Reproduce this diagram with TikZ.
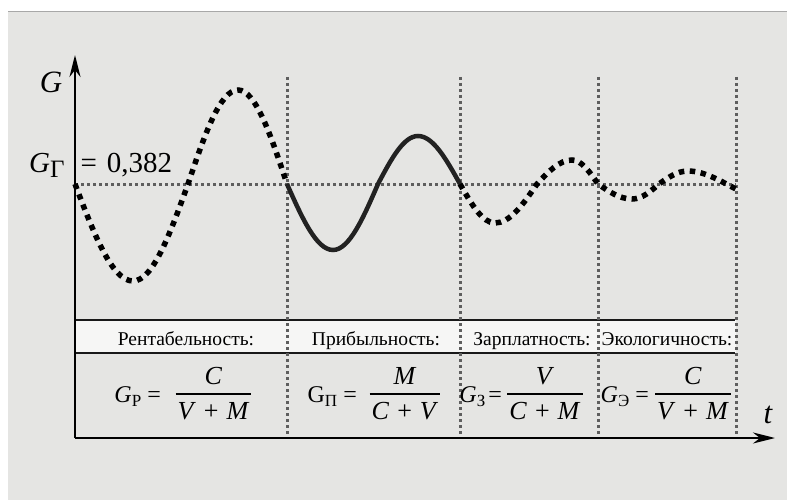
\documentclass[tikz,border=0pt]{standalone}
\usepackage{fontspec}
\setmainfont{Liberation Serif}
\usetikzlibrary{arrows.meta}
\definecolor{bggray}{HTML}{E5E5E3}
\definecolor{band}{HTML}{F6F6F5}
\definecolor{gridc}{HTML}{5E5E5E}
\definecolor{solidc}{HTML}{222222}
\definecolor{topline}{HTML}{A8A8A8}
\newcommand{\myfr}[2]{{\setlength{\arrayrulewidth}{1.8pt}\begin{tabular}{@{\hspace{2pt}}c@{\hspace{2pt}}}#1\\\hline\rule{0pt}{25pt}#2\end{tabular}}}
\newcommand{\sbs}[1]{\raisebox{-4pt}{\fontsize{17}{17}\selectfont #1}}
\newcommand{\pls}{\hspace{8pt}+\hspace{8pt}}
\begin{document}
\begin{tikzpicture}[x=1pt,y=-1pt,
 gridline/.style={gridc, line width=3pt, dash pattern=on 3pt off 3pt},
 dotcurve/.style={black, line width=5.5pt, dash pattern=on 5.5pt off 5.5pt},
 solidcurve/.style={solidc, line width=4.5pt},
 axisline/.style={black, line width=2.2pt, -{Stealth[length=22pt,width=11pt,inset=7pt]}},
 tabline/.style={black!90, line width=2.6pt},
 head/.style={font=\fontsize{19.5}{21}\selectfont, inner sep=0pt, anchor=base},
 frm/.style={font=\fontsize{26}{28}\selectfont, inner sep=0pt},
 lbl/.style={font=\fontsize{24}{26}\selectfont, inner sep=0pt, anchor=base east},
]
\useasboundingbox (0,0) rectangle (787,500);
\fill[bggray] (8,12) rectangle (787,500);
\draw[topline, line width=1pt] (8,12) -- (787,12);
\fill[band] (75,320) rectangle (736,353);
% coordinates
\coordinate (O) at (75,438);
\coordinate (Ytop) at (75,55);
\coordinate (Xend) at (775,438);
\coordinate (T1a) at (75,320); \coordinate (T1b) at (735,320);
\coordinate (T2a) at (75,353); \coordinate (T2b) at (735,353);
\coordinate (H1) at (75,184); \coordinate (H2) at (736,184);
\foreach \x/\n in {287/a,460/b,598/c,736/d}{
  \coordinate (V\n1) at (\x,77); \coordinate (V\n2) at (\x,437);
}
% table lines
\draw[tabline] (T1a) -- (T1b);
\draw[tabline] (T2a) -- (T2b);
% grid
\draw[gridline] (H1) -- (H2);
\foreach \n in {a,b,c,d}{ \draw[gridline] (V\n1) -- (V\n2); }
% curve
\draw[dotcurve] (75,184) .. controls (93.9,233.7) and (112.0,281) .. (133,281)
  .. controls (152.9,281) and (170.1,233.7) .. (188,184)
  .. controls (204.3,135.8) and (219.9,90) .. (238,90)
  .. controls (255.7,90) and (271.0,135.8) .. (287,184);
\draw[solidcurve] (287,184) .. controls (302.0,217.8) and (316.4,250) .. (333,250)
  .. controls (349.3,250) and (363.3,217.8) .. (378,184)
  .. controls (391.0,159.4) and (403.5,136) .. (418,136)
  .. controls (433.2,136) and (446.3,159.4) .. (460,184);
\draw[dotcurve] (460,184) .. controls (471.4,204.0) and (482.3,223) .. (495,223)
  .. controls (510.2,223) and (523.3,204.0) .. (537,184)
  .. controls (548.4,171.7) and (559.3,160) .. (572,160)
  .. controls (581.4,160) and (589.5,171.7) .. (598,184)
  .. controls (609.1,191.7) and (619.7,199) .. (632,199)
  .. controls (641.8,199) and (650.2,191.7) .. (659,184)
  .. controls (668.5,177.3) and (677.5,171) .. (688,171)
  .. controls (705,171) and (722,182) .. (736,189);
% axes
\draw[axisline] (O) -- (Ytop);
\draw[axisline] (O) -- (Xend);
% labels
\node[font=\fontsize{31}{33}\selectfont\itshape, inner sep=0pt, anchor=base] (Glab) at (51,93) {G};
\node[font=\fontsize{31}{33}\selectfont\itshape, inner sep=0pt, anchor=base] (tlab) at (768,423) {t};
\node[font=\fontsize{29}{31}\selectfont, inner sep=0pt, anchor=base west] (GG) at (29,172)
  {\textit{G}\raisebox{-5pt}{\fontsize{25}{25}\selectfont Г}\hspace{16pt}=\hspace{10pt}0,382};
% headers
\node[head] (h1) at (186,345) {Рентабельность:};
\node[head] (h2) at (376,345) {Прибыльность:};
\node[head] (h3) at (532,345) {Зарплатность:};
\node[head] (h4) at (667,345) {Экологичность:};
% formulas
\node[lbl] (l1) at (161,402) {\textit{G}\sbs{Р} =};
\node[frm] (f1) at (213.5,396.5) {\myfr{\textit{C}}{\textit{V}\pls\textit{M}}};
\node[lbl] (l2) at (357,402) {G\sbs{П} =};
\node[frm] (f2) at (405,396.5) {\myfr{\textit{M}}{\textit{C}\pls\textit{V}}};
\node[lbl] (l3) at (502,402) {\textit{G}\sbs{З}\hspace{3pt}=};
\node[frm] (f3) at (545,396.5) {\myfr{\textit{V}}{\textit{C}\pls\textit{M}}};
\node[lbl] (l4) at (649,402) {\textit{G}\sbs{Э} =};
\node[frm] (f4) at (693,396.5) {\myfr{\textit{C}}{\textit{V}\pls\textit{M}}};
\end{tikzpicture}
\end{document}
